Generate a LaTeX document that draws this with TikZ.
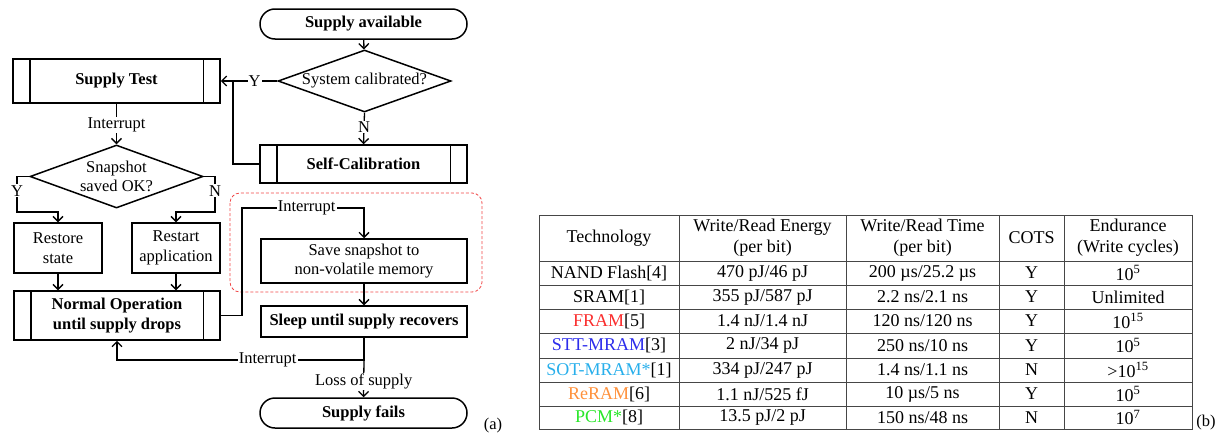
\documentclass[tikz,border=0pt]{standalone}
\usepackage{fontspec}
\setmainfont{Liberation Serif}
\usetikzlibrary{shapes.geometric,arrows.meta,calc}
\newcommand\fsz{\fontsize{16.5}{19.5}\selectfont}
\newcommand\tsz{\fontsize{18}{21}\selectfont}
\definecolor{cfram}{RGB}{250,45,45}
\definecolor{cstt}{RGB}{45,45,235}
\definecolor{csot}{RGB}{40,175,235}
\definecolor{crer}{RGB}{255,145,60}
\definecolor{cpcm}{RGB}{40,230,40}
\definecolor{grid}{RGB}{70,70,70}
\newcommand\tabrow[7]{%
  \node[cell] (r#1c1) at (609,#2) {#3};
  \node[cell] (r#1c2) at (762.5,#2) {#4};
  \node[cell] (r#1c3) at (922.5,#2) {#5};
  \node[cell] (r#1c4) at (1031.5,#2) {#6};
  \node[cell] (r#1c5) at (1128,#2) {#7};
}
\begin{document}
\begin{tikzpicture}[x=1pt,y=-1pt,
  box/.style={draw, line width=1.5pt, inner sep=0pt, align=center, font=\bfseries\fsz},
  term/.style={box, rounded corners=15pt},
  dia/.style={draw, diamond, line width=1.5pt, inner sep=0pt, aspect=2.8, align=center, font=\fsz},
  conn/.style={line width=1.3pt},
  arr/.style={conn, -{Straight Barb[length=5pt,width=10pt,line width=1.3pt]}},
  lbl/.style={fill=white, inner sep=1pt, font=\fsz},
  cell/.style={inner sep=0pt, align=center, font=\tsz},
  tbl/.style={draw=grid, line width=0.9pt}]
\useasboundingbox (0,0) rectangle (1222,434);

% ---- flowchart nodes
\node[term, minimum width=207pt, minimum height=30pt] (sa) at (363.5,24) {Supply available};
\node[dia, minimum width=173pt, minimum height=62pt] (dc) at (364.5,81) {System calibrated?};
\node[box, minimum width=207pt, minimum height=44pt] (st) at (116.5,81) {Supply Test};
\node[box, minimum width=207pt, minimum height=38pt] (sc) at (363.5,164) {Self-Calibration};
\node[dia, minimum width=173pt, minimum height=63pt] (dd) at (116.5,176.5) {Snapshot\\saved OK?};
\node[box, font=\fsz, minimum width=88pt, minimum height=50pt] (rs) at (58,248) {Restore\\state};
\node[box, font=\fsz, minimum width=88pt, minimum height=50pt] (ra) at (176,248) {Restart\\application};
\node[box, minimum width=206pt, minimum height=49pt] (no) at (117,315.5) {Normal Operation\\until supply drops};
\node[box, font=\fsz, minimum width=206pt, minimum height=44pt] (ss) at (364,261) {Save snapshot to\\non-volatile memory};
\node[box, minimum width=206pt, minimum height=31pt] (sl) at (364,321.5) {Sleep until supply recovers};
\node[term, minimum width=207pt, minimum height=30pt] (sf) at (363.5,413) {Supply fails};

% inner bars of predefined processes
\foreach \n in {st,no,sc} {
  \draw[line width=1.5pt] ($(\n.north west)+(17.5,0)$) -- ($(\n.south west)+(17.5,0)$);
  \draw[line width=1.5pt] ($(\n.north east)+(-17.5,0)$) -- ($(\n.south east)+(-17.5,0)$);
}

% red dashed group
\draw[draw={rgb,255:red,240;green,70;blue,70}, line width=0.8pt, dash pattern=on 3pt off 2pt, rounded corners=10pt] (230,193) rectangle (482,292);

% ---- connectors
\coordinate (j1) at (233,81);
\coordinate (ly) at (17,212);
\coordinate (ln) at (215,212);
\coordinate (i1) at (242,208);
\coordinate (b1) at (364,360);

\draw[arr] (sa) -- (dc);
\draw[arr] (dc.west) -- node[lbl, pos=0.4] {Y} (st.east);
\draw[arr] (dc.south) -- node[lbl, pos=0.45] {N} (sc.north);
\draw[conn] (sc.west) -| (j1);
\draw[arr] (st.south) -- node[lbl, pos=0.52] {Interrupt} (dd.north);
\draw[arr] (dd.west) -| node[lbl, pos=0.7] {Y} (ly) -| (rs.north);
\draw[arr] (dd.east) -| node[lbl, pos=0.7] {N} (ln) -| (ra.north);
\draw[arr] (rs.south) -- (rs.south |- no.north);
\draw[arr] (ra.south) -- (ra.south |- no.north);
\draw[arr] (no.east) -| (i1) -- node[lbl, pos=0.53] {Interrupt} (i1 -| ss.north) -- (ss.north);
\draw[arr] (ss.south) -- (sl.north);
\draw[arr] (sl.south) -- (b1) -- node[lbl, pos=0.39] {Interrupt} (b1 -| no.south) -- (no.south);
\draw[arr] (b1) -- node[lbl, pos=0.58] {Loss of supply} (sf.north);

\node[font=\fsz, inner sep=0pt] (la) at (493,426) {(a)};

% ---- table
\draw[tbl] (539,215) rectangle (1192,429);
\foreach \x in {679,846,999,1064} \draw[tbl] (\x,215) -- (\x,429);
\foreach \y in {261,285,309,333,358,382,406} \draw[tbl] (539,\y) -- (1192,\y);

\node[cell] (h1) at (609,238) {Technology};
\node[cell] (h2) at (762.5,238) {Write/Read Energy\\(per bit)};
\node[cell] (h3) at (922.5,238) {Write/Read Time\\(per bit)};
\node[cell] (h4) at (1031.5,238) {COTS};
\node[cell] (h5) at (1128,238) {Endurance\\(Write cycles)};

\tabrow{1}{273}{NAND Flash[4]}{470 pJ/46 pJ}{200 µs/25.2 µs}{Y}{10\textsuperscript{5}}
\tabrow{2}{297}{SRAM[1]}{355 pJ/587 pJ}{2.2 ns/2.1 ns}{Y}{Unlimited}
\tabrow{3}{321}{\textcolor{cfram}{FRAM}[5]}{1.4 nJ/1.4 nJ}{120 ns/120 ns}{Y}{10\textsuperscript{15}}
\tabrow{4}{345.5}{\textcolor{cstt}{STT-MRAM}[3]}{2 nJ/34 pJ}{250 ns/10 ns}{Y}{10\textsuperscript{5}}
\tabrow{5}{370}{\textcolor{csot}{SOT-MRAM*}[1]}{334 pJ/247 pJ}{1.4 ns/1.1 ns}{N}{>10\textsuperscript{15}}
\tabrow{6}{394}{\textcolor{crer}{ReRAM}[6]}{1.1 nJ/525 fJ}{10 µs/5 ns}{Y}{10\textsuperscript{5}}
\tabrow{7}{417.5}{\textcolor{cpcm}{PCM*}[8]}{13.5 pJ/2 pJ}{150 ns/48 ns}{N}{10\textsuperscript{7}}

\node[font=\fsz, inner sep=0pt] (lb) at (1206,423) {(b)};
\end{tikzpicture}
\end{document}
